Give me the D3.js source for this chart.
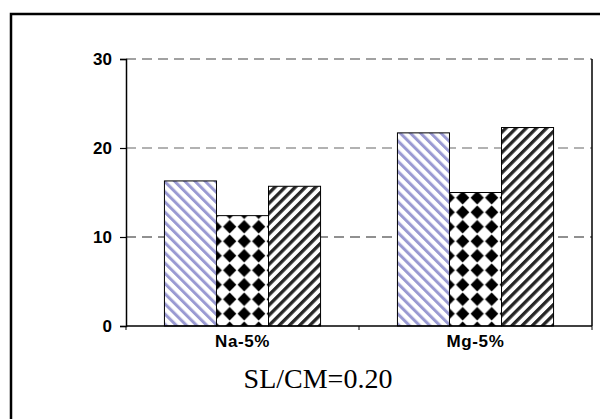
<!DOCTYPE html>
<html>
<head>
<meta charset="utf-8">
<script src="https://cdn.jsdelivr.net/npm/d3@7"></script>
<style>
  html, body { margin: 0; padding: 0; background: #fff; }
  svg { display: block; }
</style>
</head>
<body>
<svg id="chart" width="600" height="419"></svg>
<script>
// ---- data ----
const categories = ["Na-5%", "Mg-5%"];
const seriesNames = ["S1", "S2", "S3"];
const seriesS1 = [16.3, 21.7];
const seriesS2 = [12.4, 15.0];
const seriesS3 = [15.7, 22.3];
const yTicks = [0, 10, 20, 30];
const caption = "SL/CM=0.20";

const seriesValues = [seriesS1, seriesS2, seriesS3];

const svg = d3.select("#chart");
const defs = svg.append("defs");

// patterns
const P = 7.2;
const p1 = defs.append("pattern").attr("id", "pat0")
  .attr("patternUnits", "userSpaceOnUse").attr("width", P).attr("height", P)
  .attr("patternTransform", "rotate(-45)");
p1.append("rect").attr("width", P).attr("height", P).attr("fill", "#fff");
p1.append("rect").attr("width", 3).attr("height", P).attr("fill", "#9a9ad2");

const p2 = defs.append("pattern").attr("id", "pat1")
  .attr("patternUnits", "userSpaceOnUse").attr("width", 14.5).attr("height", 14.5)
  .attr("x", 0).attr("y", 2);
p2.append("rect").attr("width", 14.5).attr("height", 14.5).attr("fill", "#fff");
p2.append("path").attr("d", "M7.25,0.6 L13.9,7.25 L7.25,13.9 L0.6,7.25 Z").attr("fill", "#000");

const p3 = defs.append("pattern").attr("id", "pat2")
  .attr("patternUnits", "userSpaceOnUse").attr("width", P).attr("height", P)
  .attr("patternTransform", "rotate(45)");
p3.append("rect").attr("width", P).attr("height", P).attr("fill", "#fff");
p3.append("rect").attr("width", 3.3).attr("height", P).attr("fill", "#262626");

// outer frame (cut off at right/bottom)
svg.append("rect").attr("x", 11).attr("y", 14).attr("width", 800).attr("height", 800)
  .attr("fill", "none").attr("stroke", "#000").attr("stroke-width", 2.5);

const pLeft = 126, pRight = 592, pTop = 59, pBottom = 326;

const x0 = d3.scaleBand().domain(categories).range([pLeft, pRight])
  .paddingInner(0.33).paddingOuter(0.165);
const x1 = d3.scaleBand().domain(seriesNames).range([0, x0.bandwidth()]);
const y = d3.scaleLinear().domain([0, 30]).range([pBottom, pTop]);

// gridlines
const gridColors = {10: "#222", 20: "#666", 30: "#444"};
svg.append("g").selectAll("line").data(yTicks.filter(d => d > 0)).join("line")
  .attr("x1", pLeft).attr("x2", pRight)
  .attr("y1", d => y(d)).attr("y2", d => y(d))
  .attr("stroke", d => gridColors[d]).attr("stroke-width", 1.2)
  .attr("stroke-dasharray", "10,6");

// right border
svg.append("line").attr("x1", pRight).attr("x2", pRight).attr("y1", pTop).attr("y2", pBottom)
  .attr("stroke", "#000").attr("stroke-width", 1.5);

// bars
const groups = svg.append("g").selectAll("g").data(categories).join("g")
  .attr("transform", d => `translate(${x0(d)},0)`);
groups.selectAll("rect").data((c, ci) => seriesNames.map((s, si) => ({s, si, v: seriesValues[si][ci]})))
  .join("rect")
  .attr("x", d => x1(d.s))
  .attr("width", x1.bandwidth())
  .attr("y", d => y(d.v))
  .attr("height", d => y(0) - y(d.v))
  .attr("fill", d => `url(#pat${d.si})`)
  .attr("stroke", "#000").attr("stroke-width", 1);

// y axis
const yAxis = svg.append("g").attr("transform", `translate(${pLeft},0)`)
  .call(d3.axisLeft(y).tickValues(yTicks).tickSize(6).tickPadding(8).tickFormat(d3.format("d")));
yAxis.select(".domain").attr("stroke", "#000").attr("stroke-width", 1.5);
yAxis.selectAll(".tick line").attr("stroke", "#000").attr("stroke-width", 1.2);
yAxis.selectAll("text").attr("font-family", "Liberation Sans, Arial, sans-serif")
  .attr("font-weight", "bold").attr("font-size", 17).attr("fill", "#000");

// x axis
const xAxisScale = d3.scaleLinear().domain([0, categories.length]).range([pLeft, pRight]);
const xAxis = svg.append("g").attr("transform", `translate(0,${pBottom})`);
xAxis.append("line").attr("x1", pLeft).attr("x2", pRight).attr("stroke", "#000").attr("stroke-width", 1.5);
xAxis.selectAll("line.tk").data(d3.range(categories.length + 1)).join("line").attr("class", "tk")
  .attr("x1", d => xAxisScale(d)).attr("x2", d => xAxisScale(d)).attr("y1", 0).attr("y2", 4)
  .attr("stroke", "#000").attr("stroke-width", 1);
xAxis.selectAll("text").data(categories).join("text")
  .attr("x", d => x0(d) + x0.bandwidth() / 2).attr("y", 21)
  .attr("text-anchor", "middle")
  .attr("font-family", "Liberation Sans, Arial, sans-serif")
  .attr("font-weight", "bold").attr("font-size", 17).attr("letter-spacing", 0.6).text(d => d);

// caption
svg.append("text").attr("x", 318).attr("y", 388).attr("text-anchor", "middle")
  .attr("font-family", "Liberation Serif, Times New Roman, serif")
  .attr("font-size", 28).text(caption);
</script>
</body>
</html>
